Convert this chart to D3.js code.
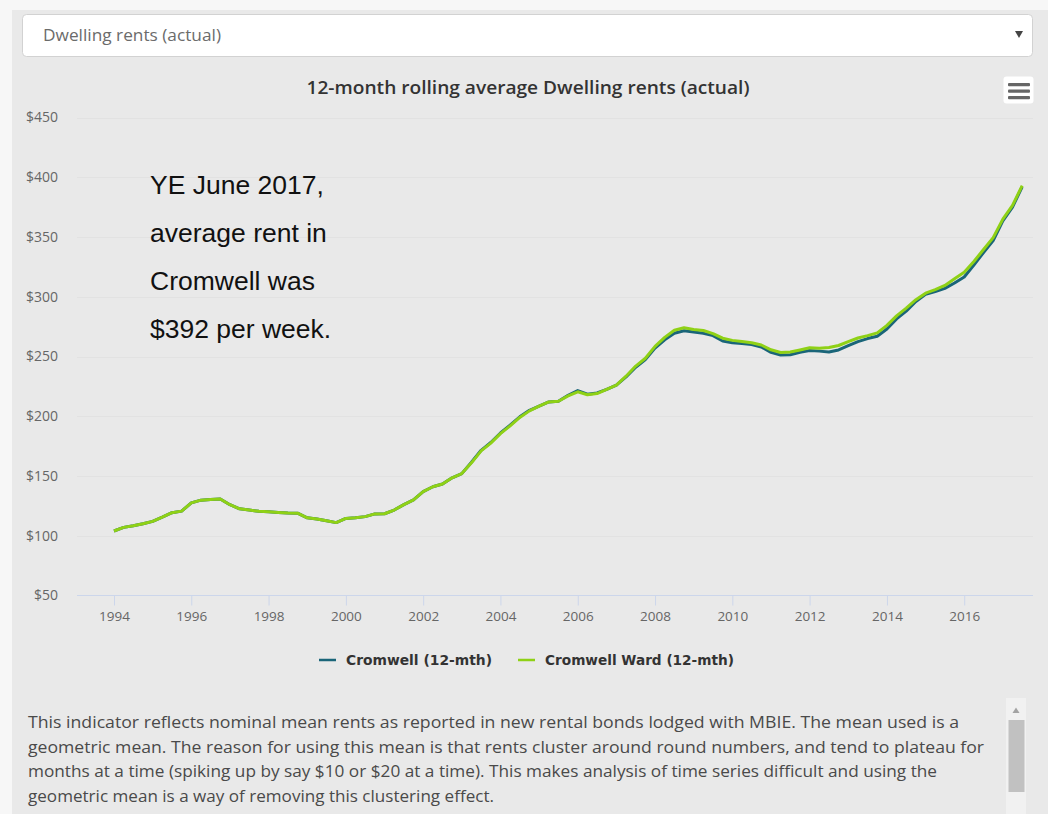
<!DOCTYPE html>
<html>
<head>
<meta charset="utf-8">
<script src="https://cdn.jsdelivr.net/npm/d3@7"></script>
<style>
  html, body { margin: 0; padding: 0; background: #f7f7f7; }
  svg { display: block; }
</style>
</head>
<body>
<svg id="page" width="1048" height="814"></svg>
<script>
// Quarterly 12-month rolling average rents, starting March quarter 1994
const startYear = 1994;
const seriesNames = ["Cromwell (12-mth)", "Cromwell Ward (12-mth)"];
const cromwell = [
  104, 107, 108.3, 110, 112, 115.5, 119.3, 120.6, 127.5, 129.8, 130.3, 130.8,
  126, 122.5, 121.5, 120.5, 120, 119.5, 119, 118.9, 115, 114, 112.5, 111,
  114.5, 115, 116, 118.3, 118.4, 121.5, 126, 130, 137, 141, 143.3, 148.5,
  152, 161.5, 171.5, 178, 186, 192.5, 199.5, 205, 208.5, 212, 212.5, 217.5,
  221.5, 218.5, 219.5, 222.5, 226, 233, 241, 247.5, 257, 264, 269.5, 271.5,
  270.5, 269.5, 267.5, 263, 261.5, 260.8, 260, 258, 253.5, 251.3, 251.5, 253.5,
  255, 254.5, 253.8, 255.5, 259, 262.5, 265, 267, 273, 281.5, 288, 296,
  302, 304.3, 307, 311.5, 316.5, 326.5, 337, 347, 363.5, 375, 392
];
const cromwellWard = [
  104, 107, 108.3, 110, 112, 115.5, 119.3, 120.6, 127.5, 129.8, 130.3, 130.8,
  126, 122.5, 121.5, 120.5, 120, 119.5, 119, 118.9, 115, 114, 112.5, 111,
  114.5, 115, 116, 118.3, 118.4, 121.5, 126, 130, 137, 141, 143.3, 148.5,
  152, 161, 171, 177.5, 185.5, 192, 199, 204.5, 208.5, 212, 212.5, 217,
  220.5, 218, 219, 222.5, 226, 233.5, 242, 248.5, 258.5, 266, 272, 274,
  272.6, 271.8, 269.2, 265.3, 263.5, 262.5, 261.5, 259.6, 255.6, 253.3, 253.7, 255.5,
  257.3, 257, 257.5, 259.2, 262.5, 265.5, 267.5, 269.8, 276, 284, 290.5, 297.5,
  303, 306, 309.5, 315, 320.5, 329.5, 339.5, 349.5, 365, 376.5, 393
];
const yTicks = [50, 100, 150, 200, 250, 300, 350, 400, 450];
const xTicks = [1994, 1996, 1998, 2000, 2002, 2004, 2006, 2008, 2010, 2012, 2014, 2016];
const dropdownLabel = "Dwelling rents (actual)";
const chartTitle = "12-month rolling average Dwelling rents (actual)";
const noteLines = [
  "YE June 2017,",
  "average rent in",
  "Cromwell was",
  "$392 per week."
];
const descriptionLines = [
  "This indicator reflects nominal mean rents as reported in new rental bonds lodged with MBIE. The mean used is a",
  "geometric mean. The reason for using this mean is that rents cluster around round numbers, and tend to plateau for",
  "months at a time (spiking up by say $10 or $20 at a time). This makes analysis of time series difficult and using the",
  "geometric mean is a way of removing this clustering effect."
];
const descriptionWidths = [931, 956, 909, 466];

const colors = { cromwell: "#1a6579", ward: "#8fd116" };

const svg = d3.select("#page");

// panel background
svg.append("rect").attr("x", 12).attr("y", 10).attr("width", 1036).attr("height", 804).attr("fill", "#e9e9e9");

// dropdown selector
svg.append("rect").attr("x", 22.5).attr("y", 14.5).attr("width", 1010).attr("height", 42)
  .attr("rx", 4).attr("fill", "#ffffff").attr("stroke", "#d2d2d2");
svg.append("text").attr("x", 43).attr("y", 41).attr("font-family", "Open Sans")
  .attr("font-size", 16).attr("fill", "#6b6b6b")
  .attr("textLength", 178).attr("lengthAdjust", "spacingAndGlyphs").text(dropdownLabel);
svg.append("path").attr("d", "M1015,31 L1023,31 L1019,38 Z").attr("fill", "#444");

// chart title
svg.append("text").attr("x", 528).attr("y", 94).attr("text-anchor", "middle")
  .attr("font-family", "Open Sans").attr("font-weight", 600).attr("font-size", 18)
  .attr("fill", "#333").attr("textLength", 443).attr("lengthAdjust", "spacingAndGlyphs")
  .text(chartTitle);

// context menu button
svg.append("rect").attr("x", 1003.5).attr("y", 76.5).attr("width", 30).attr("height", 27)
  .attr("rx", 3).attr("fill", "#ffffff");
[83, 89.5, 96].forEach(y => {
  svg.append("rect").attr("x", 1008).attr("y", y).attr("width", 22).attr("height", 3.2)
    .attr("rx", 1).attr("fill", "#666");
});

// scales
const plotLeft = 77, plotRight = 1033;
const x = d3.scaleLinear().domain([1993.043, 2017.78]).range([plotLeft, plotRight]);
const y = d3.scaleLinear().domain([50, 450]).range([595.5, 117.5]);

// gridlines
const grid = svg.append("g");
grid.selectAll("line").data(yTicks.filter(v => v !== 50)).join("line")
  .attr("x1", plotLeft).attr("x2", plotRight)
  .attr("y1", d => Math.round(y(d)) + 0.5).attr("y2", d => Math.round(y(d)) + 0.5)
  .attr("stroke", "#e2e2e2").attr("stroke-width", 1);

// y axis labels
const yAxis = d3.axisLeft(y).tickValues(yTicks).tickSize(0).tickPadding(0)
  .tickFormat(d => "$" + d);
svg.append("g").attr("transform", "translate(58,0)").call(yAxis)
  .call(g => g.select(".domain").remove())
  .call(g => g.selectAll("text").attr("font-family", "Open Sans").attr("font-size", 14)
    .attr("fill", "#666"));

// x axis
const xAxis = d3.axisBottom(x).tickValues(xTicks).tickSize(10).tickPadding(6)
  .tickFormat(d3.format("d"));
svg.append("g").attr("transform", "translate(0,595.5)").call(xAxis)
  .call(g => g.select(".domain").attr("stroke", "#ccd6eb").attr("d", `M${plotLeft},0H${plotRight}`))
  .call(g => g.selectAll(".tick line").attr("stroke", "#ccd6eb"))
  .call(g => g.selectAll("text").attr("font-family", "Open Sans").attr("font-size", 13.5)
    .attr("fill", "#666"));

// series lines
const line = d3.line()
  .x((d, i) => x(startYear + i * 0.25))
  .y(d => y(d));
svg.append("path").datum(cromwell).attr("d", line).attr("fill", "none")
  .attr("stroke", colors.cromwell).attr("stroke-width", 3).attr("stroke-linejoin", "round");
svg.append("path").datum(cromwellWard).attr("d", line).attr("fill", "none")
  .attr("stroke", colors.ward).attr("stroke-width", 3).attr("stroke-linejoin", "round");

// annotation
svg.append("g").selectAll("text").data(noteLines).join("text")
  .attr("x", 150).attr("y", (d, i) => 194 + i * 48)
  .attr("font-family", "Liberation Sans, Arial").attr("font-size", 26.5).attr("fill", "#111")
  .text(d => d);

// legend
const legendItems = [
  { name: seriesNames[0], color: colors.cromwell, x: 319, w: 146 },
  { name: seriesNames[1], color: colors.ward, x: 518, w: 189 }
];
const legend = svg.append("g");
legendItems.forEach(it => {
  legend.append("line").attr("x1", it.x).attr("x2", it.x + 17).attr("y1", 660).attr("y2", 660)
    .attr("stroke", it.color).attr("stroke-width", 2.5);
  legend.append("text").attr("x", it.x + 27).attr("y", 665)
    .attr("font-family", "DejaVu Sans").attr("font-weight", "bold").attr("font-size", 13.5)
    .attr("fill", "#333").attr("textLength", it.w).attr("lengthAdjust", "spacingAndGlyphs")
    .text(it.name);
});

// description text
svg.append("g").selectAll("text").data(descriptionLines).join("text")
  .attr("x", 28).attr("y", (d, i) => 728 + i * 24.5)
  .attr("font-family", "Open Sans").attr("font-size", 17).attr("fill", "#4a4a4a")
  .attr("textLength", (d, i) => descriptionWidths[i]).attr("lengthAdjust", "spacingAndGlyphs")
  .text(d => d);

// scrollbar
svg.append("rect").attr("x", 1006).attr("y", 698).attr("width", 20).attr("height", 116).attr("fill", "#f1f1f1");
svg.append("path").attr("d", "M1012.5,713 L1019.5,713 L1016,707.5 Z").attr("fill", "#a3a3a3");
svg.append("rect").attr("x", 1008.5).attr("y", 720).attr("width", 16).attr("height", 72).attr("fill", "#c1c1c1");
</script>
</body>
</html>
